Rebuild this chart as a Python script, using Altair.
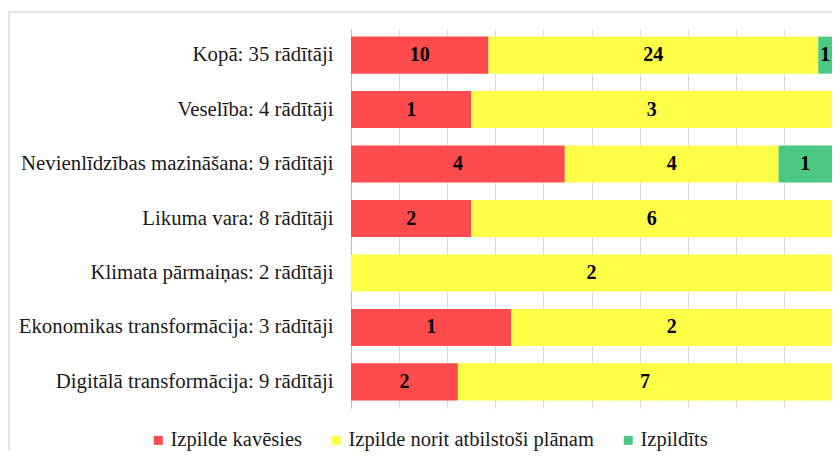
import altair as alt
import pandas as pd

categories = [
    "Kopā: 35 rādītāji",
    "Veselība: 4 rādītāji",
    "Nevienlīdzības mazināšana: 9 rādītāji",
    "Likuma vara: 8 rādītāji",
    "Klimata pārmaiņas: 2 rādītāji",
    "Ekonomikas transformācija: 3 rādītāji",
    "Digitālā transformācija: 9 rādītāji",
]
series = ["Izpilde kavēsies", "Izpilde norit atbilstoši plānam", "Izpildīts"]
delayed = [10, 1, 4, 2, 0, 1, 2]
on_track = [24, 3, 4, 6, 2, 2, 7]
done = [1, 0, 1, 0, 0, 0, 0]
colors = ["#FF4B4B", "#FFFF47", "#4BC881"]

rows = []
for i, c in enumerate(categories):
    for j, vals in enumerate([delayed, on_track, done]):
        if vals[i] > 0:
            rows.append({"cat": c, "series": series[j], "order": j, "value": vals[i]})
df = pd.DataFrame(rows)

FONT = "Liberation Serif"

yenc = alt.Y(
    "cat:N",
    sort=categories,
    scale=alt.Scale(paddingInner=0.32, paddingOuter=0.14),
    axis=alt.Axis(
        title=None, ticks=False, labelFont=FONT, labelFontSize=20.8,
        labelColor="#1a1a1a", labelPadding=18, domainColor="#BFBFBF",
        domainWidth=1.2, labelLimit=400,
    ),
)

base = alt.Chart(df).transform_stack(
    stack="value", groupby=["cat"], as_=["x0", "x1"], offset="normalize",
    sort=[alt.SortField("order", order="ascending")],
)

bars = base.mark_bar(opacity=1).encode(
    x=alt.X(
        "x0:Q",
        scale=alt.Scale(domain=[0, 1], nice=False),
        axis=alt.Axis(
            title=None, labels=False, ticks=False, domain=False,
            values=[i / 10 for i in range(11)], grid=True,
            gridColor="#D9D9D9", gridWidth=1,
        ),
    ),
    x2="x1:Q",
    y=yenc,
    color=alt.Color(
        "series:N",
        scale=alt.Scale(domain=series, range=colors),
        legend=alt.Legend(
            title=None, orient="none", legendX=-203, legendY=401,
            direction="horizontal", symbolType="square", symbolSize=81,
            symbolStrokeWidth=0, labelFont=FONT, labelFontSize=20.5,
            labelColor="#1a1a1a", labelOffset=2, columnPadding=24,
            padding=0, symbolOpacity=1, labelLimit=400,
        ),
    ),
    order=alt.Order("order:Q"),
)

text = base.transform_calculate(mid="(datum.x0 + datum.x1) / 2").mark_text(
    font=FONT, fontSize=20, fontWeight="bold", color="#000000", baseline="middle",
).encode(
    x="mid:Q",
    y=alt.Y("cat:N", sort=categories),
    text="value:Q",
)

border = alt.Chart(pd.DataFrame({"a": [0]})).mark_rect(
    fill=None, stroke="#D9D9D9", strokeWidth=1.5
).encode(
    x=alt.value(-342), x2=alt.value(520), y=alt.value(-17), y2=alt.value(460),
)

chart = alt.layer(border, bars, text).properties(
    width=481, height=379,
    autosize=alt.AutoSizeParams(type="none"),
    padding={"left": 343, "top": 21, "right": 0, "bottom": 43},
).configure_view(stroke=None)

chart.save("out.html", embed_options={"renderer": "svg", "actions": False})
